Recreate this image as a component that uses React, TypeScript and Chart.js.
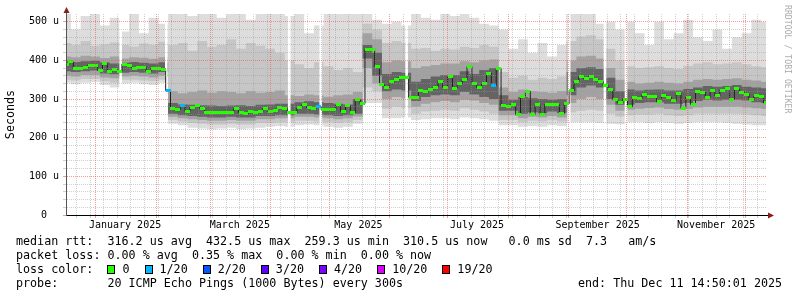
import React, { useEffect, useRef } from 'react';
import { Chart, registerables } from 'chart.js';

Chart.register(...registerables);

const FONT = '"DejaVu Sans Mono", "Liberation Mono", monospace';
const DAY_MS = 86400000;
const END_TIME = Date.parse('2025-12-11T14:50:01Z');
const SPAN_DAYS = 360;
const START_TIME = END_TIME - SPAN_DAYS * DAY_MS;
const MEDIAN_STEP_DAYS = 2.5;
const SMOKE_STEP_DAYS = 5;
const Y_MAX = 520;

// median round trip time (microseconds), one value every 2.5 days
const medianRtt = [
  390, 396, 380, 380, 381, 388, 388, 374, 392, 372,
  376, 372, 390, 386, 380, 381, 382, 372, 380, 378,
  376, 322, 276, 273, 282, 268, 279, 282, 276, 266,
  265, 264, 266, 265, 266, 275, 265, 262, 268, 266,
  268, 276, 268, 270, 277, 276, 265, 264, 277, 285,
  277, 276, 280, 272, 272, 272, 285, 268, 282, 265,
  298, 288, 427, 428, 385, 337, 330, 345, 350, 357,
  356, 305, 305, 322, 320, 325, 330, 345, 330, 358,
  328, 340, 350, 384, 340, 330, 340, 367, 335, 380,
  283, 281, 286, 259, 306, 320, 259, 285, 259, 286,
  285, 285, 262, 288, 321, 345, 358, 352, 358, 350,
  345, 335, 324, 298, 290, 300, 280, 304, 302, 311,
  307, 307, 293, 308, 305, 296, 315, 276, 305, 286,
  320, 318, 305, 321, 308, 322, 326, 300, 326, 318,
  312, 298, 308, 307, 290,
];

// [median sample index, lost pings out of 20]
const lossSamples: [number, number][] = [[21, 1], [24, 1], [52, 1], [88, 1]];

// smoke envelope (microseconds), one column every 5 days
const smokeMax = [
  520, 480, 515, 520, 490, 510, 475, 520, 470, 510, 495,
  520, 520, 515, 520, 520, 510, 520, 520, 505, 520,
  520, 520, 515, 520, 470, 490, 520, 520, 520, 520,
  520, 505, 495, 500, 490, 520, 510, 505, 520, 515,
  520, 510, 495, 490, 480, 430, 455, 420, 445, 410,
  440, 520, 520, 520, 495, 500, 480, 500, 470, 440,
  500, 455, 470, 505, 460, 450, 480, 430, 460, 470,
  505, 500,
];
const smokeHi2 = [
  445, 440, 450, 438, 442, 446, 440, 436, 444, 440, 448,
  440, 445, 425, 450, 435, 440, 455, 430, 445, 438,
  430, 420, 400, 390, 380, 395, 385, 375, 380, 370,
  495, 480, 445, 450, 445, 430, 432, 425, 430, 428,
  435, 432, 440, 435, 370, 355, 360, 350, 355, 352,
  358, 450, 462, 465, 455, 430, 400, 385, 380, 382,
  385, 380, 378, 386, 392, 395, 390, 392, 395, 390,
  385, 382,
];
const smokeHi3 = [
  410, 408, 412, 410, 406, 410, 405, 408, 407, 404, 408,
  320, 315, 318, 322, 316, 320, 318, 315, 320, 316,
  318, 322, 310, 308, 312, 310, 306, 310, 312, 318,
  470, 455, 395, 400, 398, 380, 385, 388, 392, 392,
  398, 395, 400, 402, 330, 318, 325, 320, 318, 316,
  320, 400, 410, 412, 405, 380, 350, 345, 340, 342,
  345, 342, 340, 345, 350, 352, 350, 352, 354, 350,
  348, 345,
];
const smokeHi4 = [
  398, 396, 398, 399, 395, 392, 394, 396, 394, 392, 395,
  290, 286, 285, 284, 283, 282, 283, 284, 282, 285,
  286, 288, 288, 292, 294, 292, 290, 288, 286, 300,
  440, 420, 365, 370, 368, 345, 352, 358, 362, 362,
  372, 365, 375, 380, 310, 298, 305, 302, 300, 298,
  300, 370, 380, 382, 378, 355, 320, 325, 322, 324,
  325, 322, 322, 326, 330, 334, 332, 334, 336, 332,
  330, 328,
];
const smokeLo4 = [
  372, 370, 372, 374, 366, 364, 368, 370, 368, 366, 370,
  262, 258, 256, 254, 252, 252, 254, 252, 252, 256,
  256, 258, 258, 262, 262, 260, 258, 256, 258, 262,
  405, 360, 320, 325, 322, 295, 305, 310, 312, 310,
  318, 312, 305, 300, 270, 270, 262, 266, 264, 268,
  264, 310, 330, 335, 330, 300, 285, 285, 290, 292,
  292, 288, 288, 290, 295, 298, 296, 298, 298, 296,
  292, 290,
];
const smokeLo3 = [
  360, 358, 362, 362, 356, 354, 358, 360, 358, 356, 360,
  254, 250, 248, 246, 244, 244, 246, 244, 244, 248,
  248, 250, 250, 254, 254, 252, 250, 248, 250, 255,
  380, 340, 300, 305, 302, 280, 288, 292, 295, 292,
  298, 296, 290, 285, 258, 258, 250, 254, 252, 256,
  252, 290, 300, 305, 300, 285, 270, 272, 275, 277,
  278, 274, 272, 274, 278, 280, 280, 280, 280, 278,
  276, 274,
];
const smokeLo2 = [
  350, 348, 352, 352, 346, 342, 350, 350, 348, 346, 350,
  246, 242, 238, 236, 234, 234, 236, 234, 234, 238,
  238, 240, 240, 244, 244, 242, 240, 238, 240, 246,
  330, 320, 275, 280, 276, 262, 268, 270, 272, 270,
  276, 272, 268, 262, 246, 246, 240, 244, 242, 245,
  242, 265, 270, 272, 270, 262, 255, 258, 260, 260,
  262, 258, 256, 258, 262, 262, 262, 262, 262, 260,
  258, 256,
];
const smokeMin = [
  342, 338, 342, 344, 336, 330, 340, 342, 338, 336, 342,
  236, 232, 226, 224, 222, 224, 226, 222, 224, 226,
  228, 230, 228, 232, 234, 232, 228, 226, 228, 236,
  290, 290, 250, 250, 252, 246, 248, 250, 250, 248,
  252, 250, 248, 244, 232, 232, 228, 230, 228, 232,
  230, 240, 240, 240, 238, 236, 235, 240, 240, 238,
  240, 238, 236, 238, 240, 240, 240, 238, 236, 234,
  232, 232,
];

// moments without data (white gaps through the smoke)
const outageTimes = [
  '2025-01-13T18:00:00Z',
  '2025-02-06T05:00:00Z',
  '2025-04-10T10:00:00Z',
  '2025-04-26T15:00:00Z',
  '2025-06-09T19:00:00Z',
  '2025-09-01T09:00:00Z',
  '2025-09-19T19:00:00Z',
  '2025-09-30T15:00:00Z',
];

const lossLevels = [0, 1, 2, 3, 4, 10, 19];
const lossLabels = ['0', '1/20', '2/20', '3/20', '4/20', '10/20', '19/20'];
const lossColors = ['#26ff00', '#00b8ff', '#0059ff', '#5e00ff', '#7e00ff', '#dd00ff', '#ff0000'];

const yMajorTicks = [0, 100, 200, 300, 400, 500];
const yTickLabels = ['0  ', '100 u', '200 u', '300 u', '400 u', '500 u'];
const yMinorStep = 20;

const xLabelMonths = ['2025-01', '2025-03', '2025-05', '2025-07', '2025-09', '2025-11'];
const xTickLabels = ['January 2025', 'March 2025', 'May 2025', 'July 2025', 'September 2025', 'November 2025'];

const rttLine = 'median rtt:  316.2 us avg  432.5 us max  259.3 us min  310.5 us now   0.0 ms sd  7.3   am/s';
const lossLine = 'packet loss: 0.00 % avg  0.35 % max  0.00 % min  0.00 % now';
const lossTitle = 'loss color:  ';
const probeLine = 'probe:       20 ICMP Echo Pings (1000 Bytes) every 300s';
const endLine = 'end: Thu Dec 11 14:50:01 2025';
const watermark = 'RRDTOOL / TOBI OETIKER';

// ---------- derived structures ----------
const medianPoints = medianRtt.map((v, i) => ({ x: START_TIME + i * MEDIAN_STEP_DAYS * DAY_MS, y: v }));
const toSmoke = (arr: number[]) => arr.map((v, k) => ({ x: START_TIME + k * SMOKE_STEP_DAYS * DAY_MS, y: v }));
const lossByIndex = new Map<number, number>(lossSamples);
const lossColorIndex = (lost: number) => {
  let idx = 0;
  lossLevels.forEach((lvl, j) => { if (lost >= lvl) idx = j; });
  return idx;
};

const monthStarts: number[] = [];
{
  const s = new Date(START_TIME);
  let y = s.getUTCFullYear();
  let m = s.getUTCMonth() + 1;
  for (;;) {
    if (m > 11) { m = 0; y += 1; }
    const t = Date.UTC(y, m, 1);
    if (t > END_TIME) break;
    monthStarts.push(t);
    m += 1;
  }
}
const weekStarts: number[] = [];
{
  const s = new Date(START_TIME);
  let t = Date.UTC(s.getUTCFullYear(), s.getUTCMonth(), s.getUTCDate());
  while (new Date(t).getUTCDay() !== 0 || t < START_TIME) t += DAY_MS;
  for (; t <= END_TIME; t += 7 * DAY_MS) if (!monthStarts.includes(t)) weekStarts.push(t);
}
const xLabelByValue = new Map<number, string>();
xLabelMonths.forEach((ym, i) => {
  const [yy, mm] = ym.split('-').map(Number);
  xLabelByValue.set(Date.UTC(yy, mm - 1, 1) + 15 * DAY_MS, xTickLabels[i]);
});
const monthSet = new Set(monthStarts);
const xTickValues = [...new Set([...weekStarts, ...monthStarts, ...xLabelByValue.keys()])].sort((a, b) => a - b);

const yLabelByValue = new Map<number, string>();
yMajorTicks.forEach((v, i) => yLabelByValue.set(v, yTickLabels[i]));
const yTickValues: number[] = [];
for (let v = 0; v <= yMajorTicks[yMajorTicks.length - 1]; v += yMinorStep) yTickValues.push(v);

const MINOR_GRID = 'rgba(150,150,150,0.45)';
const MAJOR_GRID = 'rgba(235,90,90,0.6)';

const axisArrows = {
  id: 'axisArrows',
  afterDraw(chart: any) {
    const { ctx, chartArea } = chart;
    const { left, right, top, bottom } = chartArea;
    const ax = Math.round(left) + 0.5;
    const ay = Math.round(bottom) + 0.5;
    ctx.save();
    ctx.lineWidth = 1;
    ctx.strokeStyle = '#000';
    ctx.beginPath(); ctx.moveTo(right, ay); ctx.lineTo(right + 3, ay); ctx.stroke();
    ctx.strokeStyle = '#555';
    ctx.beginPath(); ctx.moveTo(ax, top); ctx.lineTo(ax, top - 2); ctx.stroke();
    ctx.fillStyle = '#8b1c1c';
    ctx.beginPath(); ctx.moveTo(right + 2, ay - 3); ctx.lineTo(right + 8, ay); ctx.lineTo(right + 2, ay + 3); ctx.closePath(); ctx.fill();
    ctx.beginPath(); ctx.moveTo(ax - 3, top - 1); ctx.lineTo(ax, top - 7); ctx.lineTo(ax + 3, top - 1); ctx.closePath(); ctx.fill();
    ctx.restore();
  },
};

export default function App() {
  const ref = useRef<HTMLCanvasElement>(null);

  useEffect(() => {
    const marks = lossColors.map((c) => {
      const cv = document.createElement('canvas');
      cv.width = 5; cv.height = 3;
      const g = cv.getContext('2d')!;
      g.fillStyle = c; g.fillRect(0, 0, 5, 3);
      return cv;
    });

    const smokeLayers = [
      { hi: smokeHi4, lo: smokeLo4, color: '#646464', order: 3 },
      { hi: smokeHi3, lo: smokeLo3, color: '#a2a2a2', order: 4 },
      { hi: smokeHi2, lo: smokeLo2, color: '#c6c6c6', order: 5 },
      { hi: smokeMax, lo: smokeMin, color: '#dddddd', order: 6 },
    ];
    const smokeSets: any[] = [];
    smokeLayers.forEach((l) => {
      smokeSets.push({
        type: 'line', data: toSmoke(l.hi), order: l.order, fill: '+1', backgroundColor: l.color,
        borderWidth: 0, borderColor: 'rgba(0,0,0,0)', pointRadius: 0, stepped: 'middle',
      });
      smokeSets.push({
        type: 'line', data: toSmoke(l.lo), order: l.order, fill: false,
        borderWidth: 0, borderColor: 'rgba(0,0,0,0)', pointRadius: 0, stepped: 'middle',
      });
    });

    Chart.defaults.font.family = FONT;

    const chart = new Chart(ref.current!, {
      type: 'line',
      data: {
        datasets: [
          {
            type: 'line', data: medianPoints, order: 0, fill: false, stepped: 'middle',
            borderColor: '#202020', borderWidth: 1, pointRadius: 2,
            pointStyle: (ctx: any) => marks[lossColorIndex(lossByIndex.get(ctx.dataIndex) ?? 0)],
          },
          {
            type: 'bar', order: 1, grouped: false, barThickness: 2, borderWidth: 0,
            backgroundColor: '#ffffff',
            data: outageTimes.map((t) => ({ x: Date.parse(t), y: [200, Y_MAX] })),
          },
          ...smokeSets,
        ] as any,
      },
      options: {
        responsive: false,
        animation: false,
        events: [],
        layout: { padding: { left: 0, top: 14, right: 31, bottom: 62 } },
        plugins: { legend: { display: false }, tooltip: { enabled: false } },
        scales: {
          x: {
            type: 'linear', min: START_TIME, max: END_TIME, offset: false,
            afterBuildTicks: (s: any) => { s.ticks = xTickValues.map((v) => ({ value: v })); },
            afterFit: (s: any) => { s.height = 20; },
            ticks: {
              autoSkip: false, maxRotation: 0, minRotation: 0, padding: 1, color: '#000',
              font: { family: FONT, size: 10 },
              callback: (v: any) => xLabelByValue.get(Number(v)) ?? '',
            },
            grid: {
              z: 1, lineWidth: 1, tickLength: 3, drawTicks: true, offset: false,
              color: (c: any) => {
                const v = c.tick ? c.tick.value : NaN;
                if (monthSet.has(v)) return MAJOR_GRID;
                if (xLabelByValue.has(v) && new Date(v).getUTCDay() !== 0) return 'rgba(0,0,0,0)';
                return MINOR_GRID;
              },
            },
            border: { display: true, color: '#000', width: 1, dash: [1, 1], z: 2 },
          },
          y: {
            type: 'linear', min: 0, max: Y_MAX,
            afterBuildTicks: (s: any) => { s.ticks = yTickValues.map((v) => ({ value: v })); },
            afterFit: (s: any) => { s.width = 66; },
            title: {
              display: true, text: 'Seconds', color: '#000',
              font: { family: FONT, size: 11.7 }, padding: { top: 4, bottom: 0 },
            },
            ticks: {
              autoSkip: false, padding: 4, color: '#000', font: { family: FONT, size: 10 },
              callback: (v: any) => yLabelByValue.get(Number(v)) ?? '',
            },
            grid: {
              z: 1, lineWidth: 1, tickLength: 3, drawTicks: true,
              color: (c: any) => {
                const v = c.tick ? c.tick.value : NaN;
                return yLabelByValue.has(v) ? MAJOR_GRID : MINOR_GRID;
              },
            },
            border: { display: true, color: '#555', width: 1, dash: [1, 1], z: 2 },
          },
        },
      } as any,
      plugins: [axisArrows],
    });
    return () => chart.destroy();
  }, []);

  const textStyle: React.CSSProperties = {
    fontFamily: FONT, fontSize: 11.7, lineHeight: '14px', whiteSpace: 'pre', color: '#000',
  };

  return (
    <div style={{ position: 'fixed', left: 0, top: 0, width: 797, height: 297, background: '#fff', overflow: 'hidden' }}>
      <canvas ref={ref} width={797} height={297} style={{ position: 'absolute', left: 0, top: 0, width: 797, height: 297 }} />
      <div
        style={{
          position: 'absolute', left: 792, top: 5, transform: 'rotate(90deg)', transformOrigin: '0 0',
          fontFamily: FONT, fontSize: 8.2, lineHeight: '9px', color: '#aaaaaa', whiteSpace: 'pre',
        }}
      >
        {watermark}
      </div>
      <div style={{ position: 'absolute', left: 16, top: 234, ...textStyle }}>
        <div>{rttLine}</div>
        <div>{lossLine}</div>
        <div style={{ display: 'flex', alignItems: 'center', height: 14 }}>
          <span>{lossTitle}</span>
          {lossLabels.map((l, i) => (
            <React.Fragment key={l}>
              <span
                style={{
                  display: 'inline-block', width: 8, height: 9, boxSizing: 'border-box',
                  border: '1px solid #000', background: lossColors[i], marginRight: 7,
                }}
              />
              <span style={{ marginRight: 15 }}>{l}</span>
            </React.Fragment>
          ))}
        </div>
        <div>{probeLine}</div>
      </div>
      <div style={{ position: 'absolute', left: 578, top: 276, ...textStyle }}>{endLine}</div>
    </div>
  );
}
